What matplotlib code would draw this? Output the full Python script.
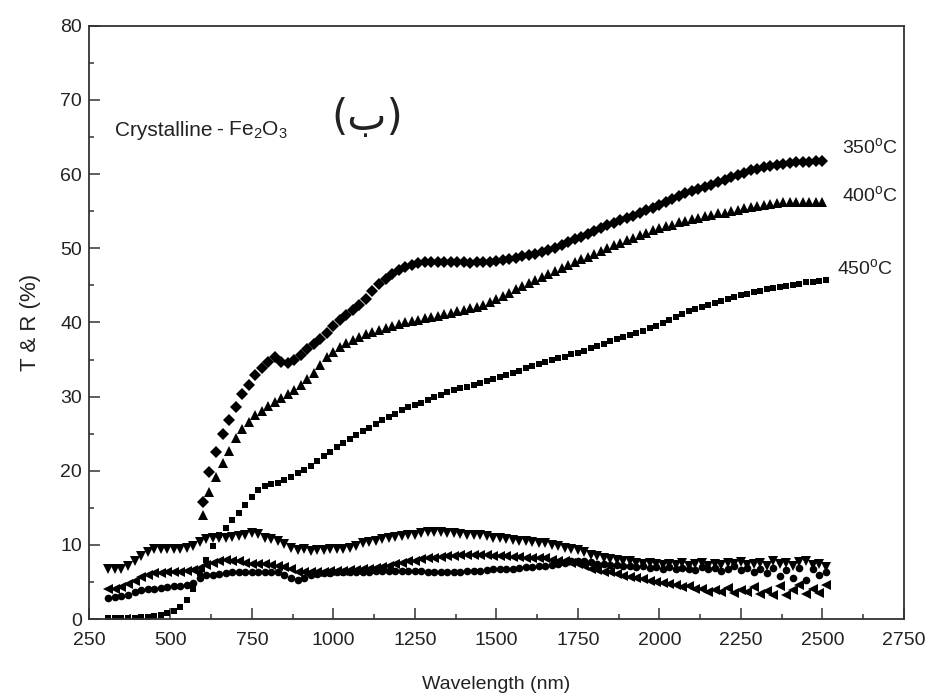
import numpy as np
import matplotlib.pyplot as plt
from matplotlib.ticker import MultipleLocator

# fonts: sans for ticks / annotations
SANS = ['Liberation Sans', 'DejaVu Sans']
plt.rcParams['font.family'] = SANS
plt.rcParams['mathtext.fontset'] = 'custom'
plt.rcParams['mathtext.rm'] = 'Liberation Sans'
plt.rcParams['mathtext.it'] = 'Liberation Sans'

# ---- transmission spectra (600-2500 nm, 20 nm step) ----
t_350 = [15.8, 19.9, 22.5, 24.9, 26.9, 28.6, 30.3, 31.6, 32.9, 33.9,
         34.7, 35.3, 34.7, 34.5, 35.0, 35.6, 36.4, 37.1, 37.8, 38.6,
         39.5, 40.4, 41.0, 41.7, 42.4, 43.2, 44.2, 45.2, 45.9, 46.6,
         47.1, 47.5, 47.8, 48.0, 48.1, 48.2, 48.2, 48.2, 48.2, 48.1,
         48.1, 48.0, 48.1, 48.1, 48.2, 48.3, 48.4, 48.5, 48.7, 48.9,
         49.1, 49.3, 49.5, 49.8, 50.1, 50.4, 50.8, 51.2, 51.5, 51.9,
         52.3, 52.7, 53.1, 53.4, 53.8, 54.1, 54.4, 54.7, 55.1, 55.4,
         55.8, 56.2, 56.6, 57.0, 57.4, 57.7, 58.0, 58.3, 58.6, 58.9,
         59.2, 59.6, 59.9, 60.2, 60.5, 60.7, 60.9, 61.1, 61.3, 61.4,
         61.5, 61.6, 61.7, 61.7, 61.8, 61.8]

t_400 = [14.0, 17.2, 19.2, 21.0, 22.7, 24.4, 25.6, 26.6, 27.5, 28.1,
         28.8, 29.3, 29.8, 30.3, 30.9, 31.6, 32.4, 33.2, 34.3, 35.3,
         36.0, 36.7, 37.2, 37.6, 38.0, 38.4, 38.7, 39.0, 39.3, 39.5,
         39.8, 40.0, 40.2, 40.4, 40.6, 40.8, 40.9, 41.1, 41.3, 41.5,
         41.7, 41.9, 42.1, 42.4, 42.8, 43.2, 43.6, 44.0, 44.5, 44.9,
         45.3, 45.7, 46.1, 46.5, 46.9, 47.3, 47.7, 48.1, 48.5, 48.8,
         49.2, 49.6, 50.0, 50.4, 50.7, 51.1, 51.4, 51.8, 52.1, 52.5,
         52.7, 53.0, 53.2, 53.5, 53.7, 53.9, 54.1, 54.3, 54.5, 54.7,
         54.8, 55.0, 55.2, 55.4, 55.6, 55.7, 55.8, 56.0, 56.1, 56.2,
         56.3, 56.3, 56.3, 56.3, 56.3, 56.3]

# ---- 450 C transmission and reflectance spectra (310-2510 nm, 20 nm step) ----
t_450 = [0.1, 0.1, 0.1, 0.2, 0.2, 0.3, 0.3, 0.4, 0.6, 0.8,
         1.1, 1.6, 2.6, 4.0, 6.2, 8.0, 9.8, 11.3, 12.3, 13.3,
         14.3, 15.4, 16.5, 17.4, 17.9, 18.2, 18.4, 18.7, 19.2, 19.7,
         20.1, 20.7, 21.3, 22.0, 22.6, 23.2, 23.7, 24.3, 24.8, 25.3,
         25.8, 26.3, 26.8, 27.3, 27.7, 28.2, 28.6, 28.9, 29.2, 29.6,
         29.9, 30.2, 30.6, 30.9, 31.1, 31.3, 31.6, 31.8, 32.1, 32.4,
         32.7, 32.9, 33.2, 33.5, 33.8, 34.1, 34.4, 34.7, 35.0, 35.2,
         35.4, 35.7, 35.9, 36.2, 36.5, 36.8, 37.1, 37.5, 37.8, 38.1,
         38.3, 38.6, 38.9, 39.2, 39.5, 39.9, 40.3, 40.7, 41.1, 41.5,
         41.8, 42.1, 42.3, 42.6, 42.9, 43.2, 43.4, 43.7, 43.9, 44.1,
         44.3, 44.5, 44.7, 44.8, 44.9, 45.1, 45.2, 45.4, 45.5, 45.6,
         45.7]

r_1 = [6.8, 6.7, 6.8, 7.2, 7.9, 8.5, 9.1, 9.4, 9.5, 9.4,
       9.4, 9.5, 9.6, 9.9, 10.4, 10.8, 10.9, 11.0, 11.0, 11.1,
       11.2, 11.4, 11.6, 11.5, 11.0, 10.8, 10.6, 10.1, 9.6, 9.3,
       9.4, 9.2, 9.3, 9.3, 9.4, 9.5, 9.5, 9.6, 9.9, 10.2,
       10.4, 10.6, 10.8, 11.0, 11.1, 11.2, 11.3, 11.4, 11.6, 11.7,
       11.7, 11.7, 11.6, 11.6, 11.5, 11.4, 11.4, 11.3, 11.2, 11.0,
       10.9, 10.8, 10.7, 10.6, 10.5, 10.4, 10.3, 10.2, 10.0, 9.8,
       9.6, 9.4, 9.3, 9.0, 8.7, 8.5, 8.3, 8.1, 8.0, 7.9,
       7.8, 7.6, 7.5, 7.6, 7.4, 7.3, 7.5, 7.3, 7.6, 7.2,
       7.4, 7.6, 7.2, 7.5, 7.3, 7.6, 7.4, 7.7, 7.3, 7.5,
       7.6, 7.2, 7.8, 7.4, 7.6, 7.1, 7.7, 7.8, 7.3, 7.5,
       7.0]

r_2 = [4.0, 4.1, 4.3, 4.7, 5.2, 5.7, 6.0, 6.2, 6.2, 6.3,
       6.3, 6.4, 6.5, 6.6, 6.9, 7.3, 7.6, 7.8, 8.0, 7.9,
       7.8, 7.6, 7.5, 7.5, 7.4, 7.3, 7.2, 7.0, 6.7, 6.4,
       6.3, 6.3, 6.4, 6.4, 6.5, 6.5, 6.5, 6.6, 6.6, 6.7,
       6.8, 6.9, 7.0, 7.2, 7.4, 7.6, 7.8, 7.9, 8.1, 8.2,
       8.3, 8.4, 8.5, 8.5, 8.6, 8.6, 8.6, 8.6, 8.6, 8.5,
       8.5, 8.5, 8.4, 8.4, 8.3, 8.3, 8.2, 8.2, 8.0, 7.9,
       7.8, 7.6, 7.4, 7.1, 6.8, 6.6, 6.4, 6.3, 6.1, 5.8,
       5.7, 5.5, 5.4, 5.2, 5.0, 4.9, 4.7, 4.6, 4.3, 4.4,
       4.0, 4.1, 3.7, 3.9, 3.6, 4.2, 3.5, 3.9, 3.6, 4.3,
       3.4, 3.8, 3.3, 4.4, 3.2, 3.9, 4.6, 3.4, 4.1, 3.5,
       4.6]

r_3 = [2.9, 3.0, 3.1, 3.3, 3.6, 3.9, 4.0, 4.1, 4.2, 4.3,
       4.4, 4.5, 4.6, 4.9, 5.6, 5.9, 6.0, 6.1, 6.2, 6.3,
       6.3, 6.4, 6.4, 6.4, 6.4, 6.4, 6.3, 6.0, 5.6, 5.3,
       5.5, 5.9, 6.1, 6.2, 6.2, 6.3, 6.3, 6.3, 6.4, 6.4,
       6.4, 6.5, 6.5, 6.5, 6.5, 6.5, 6.5, 6.5, 6.5, 6.4,
       6.4, 6.4, 6.4, 6.4, 6.4, 6.5, 6.5, 6.5, 6.6, 6.7,
       6.7, 6.8, 6.8, 6.9, 7.0, 7.0, 7.1, 7.2, 7.3, 7.5,
       7.6, 7.8, 7.9, 7.8, 7.7, 7.5, 7.4, 7.3, 7.3, 7.2,
       7.1, 7.0, 7.1, 6.9, 7.0, 6.8, 7.0, 6.7, 6.9, 6.8,
       6.6, 7.0, 6.7, 6.9, 6.5, 6.8, 7.1, 6.6, 6.9, 6.4,
       6.8, 6.2, 6.9, 5.8, 6.6, 5.5, 6.9, 5.3, 6.7, 5.9,
       6.3]

wl_t = np.arange(600, 600 + 20 * len(t_350), 20)     # 600 ... 2500 nm
wl_r = np.arange(310, 310 + 20 * len(t_450), 20)     # 310 ... 2510 nm

fig = plt.figure(figsize=(9.26, 6.98), dpi=100)
ax = fig.add_axes([0.096, 0.113, 0.880, 0.850])

mk = dict(linestyle='none', color='black', markeredgewidth=0)
ax.plot(wl_t, t_350, marker='D', markersize=6.0, **mk)
ax.plot(wl_t, t_400, marker='^', markersize=6.5, **mk)
ax.plot(wl_r, t_450, marker='s', markersize=5.0, **mk)
ax.plot(wl_r, r_1, marker='v', markersize=6.5, **mk)
ax.plot(wl_r, r_2, marker='<', markersize=6.5, **mk)
ax.plot(wl_r, r_3, marker='o', markersize=5.5, **mk)

# axes range, ticks, frame
ax.set_xlim(250, 2750)
ax.set_ylim(0, 80)
ax.xaxis.set_major_locator(MultipleLocator(250))
ax.xaxis.set_minor_locator(MultipleLocator(125))
ax.yaxis.set_major_locator(MultipleLocator(10))
ax.yaxis.set_minor_locator(MultipleLocator(5))
ax.tick_params(which='both', direction='in', top=False, right=False,
               width=1.1, color='#333333', labelcolor='#222222')
ax.tick_params(which='major', length=8, labelsize=14)
ax.tick_params(axis='x', which='major', pad=9)
ax.tick_params(axis='y', which='major', pad=5)
ax.tick_params(which='minor', length=3.5)
for sp in ax.spines.values():
    sp.set_linewidth(1.3)
    sp.set_color('#333333')

ax.set_xlabel('Wavelength (nm)', fontsize=14, color='#222222', labelpad=20)
ax.set_ylabel('T & R (%)', fontsize=16, color='#222222', labelpad=14)

# annotations
ax.text(330, 65.9, 'Crystalline', fontsize=15, color='#222222', va='center')
ax.text(640, 65.9, '- Fe$_2$O$_3$', fontsize=15, color='#222222', va='center')
ax.text(1103, 67.6, '(ب)', fontsize=30, color='#222222', ha='center', va='center',
        family=['DejaVu Sans'])
ax.text(2560, 63.7, '350$^o$C', fontsize=14, color='#222222', va='center')
ax.text(2560, 57.2, '400$^o$C', fontsize=14, color='#222222', va='center')
ax.text(2545, 47.4, '450$^o$C', fontsize=14, color='#222222', va='center')

plt.savefig('out.png', dpi=100)
